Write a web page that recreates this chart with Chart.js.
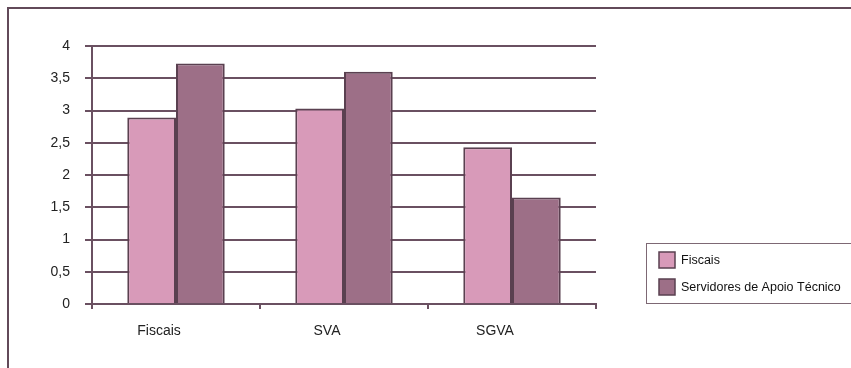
<!DOCTYPE html>
<html>
<head>
<meta charset="utf-8">
<script src="https://cdn.jsdelivr.net/npm/chart.js@4"></script>
<style>
  body { margin: 0; background: #fff; }
  canvas { display: block; }
</style>
</head>
<body>
<canvas id="myChart" width="851" height="368"></canvas>
<script>
'use strict';

// chart data
let categories = ['Fiscais', 'SVA', 'SGVA'];
let seriesNames = ['Fiscais', 'Servidores de Apoio Técnico'];
let fiscaisValues = [2.89, 3.03, 2.43];
let apoioValues = [3.73, 3.60, 1.65];

let lineColor = '#6a5061';
let fillColors = ['#d89ab9', '#9d6f87'];
let fontFamily = '"Liberation Sans", Arial, sans-serif';

// outer frame and boxed legend on the right
let framePlugin = {
  id: 'frame',
  afterDraw(chart) {
    let ctx = chart.ctx;
    ctx.save();
    ctx.strokeStyle = '#624a59';
    ctx.lineWidth = 2;
    ctx.strokeRect(8, 8, 900, 400);

    // legend box
    ctx.lineWidth = 1;
    ctx.strokeStyle = '#7d6874';
    ctx.strokeRect(646.5, 243.5, 300, 60);

    ctx.font = '12.5px ' + fontFamily;
    ctx.textBaseline = 'middle';
    chart.data.datasets.forEach((ds, i) => {
      let y = 252 + i * 27;
      ctx.fillStyle = ds.backgroundColor;
      ctx.fillRect(659, y, 16, 16);
      ctx.strokeStyle = '#5a4050';
      ctx.lineWidth = 1.5;
      ctx.strokeRect(659, y, 16, 16);
      ctx.fillStyle = '#111';
      ctx.fillText(ds.label, 681, y + 9);
    });
    ctx.restore();
  }
};

let chartObject = {
  type: 'bar',
  data: {
    labels: categories,
    datasets: [{
      label: seriesNames[0],
      data: fiscaisValues,
      backgroundColor: fillColors[0],
      borderColor: '#5a4050',
      borderWidth: 2
    },
    {
      label: seriesNames[1],
      data: apoioValues,
      backgroundColor: fillColors[1],
      borderColor: '#5a4050',
      borderWidth: 2
    }]
  },
  options: {
    responsive: false,
    animation: false,
    layout: {
      padding: { left: 8, right: 255, top: 46, bottom: 24 }
    },
    datasets: {
      bar: {
        categoryPercentage: 0.58,
        barPercentage: 1
      }
    },
    plugins: {
      legend: { display: false },
      tooltip: { enabled: false }
    },
    scales: {
      x: {
        grid: {
          drawOnChartArea: false,
          drawTicks: true,
          tickLength: 5,
          color: lineColor,
          lineWidth: 2
        },
        border: { color: lineColor, width: 2 },
        ticks: {
          color: '#222',
          padding: 14,
          labelOffset: -17,
          font: { family: fontFamily, size: 14 }
        },
        afterFit(scale) { scale.height = 40; }
      },
      y: {
        min: 0,
        max: 4,
        ticks: {
          stepSize: 0.5,
          color: '#222',
          padding: 15,
          font: { family: fontFamily, size: 14 },
          callback: (v) => String(v).replace('.', ',')
        },
        grid: {
          color: lineColor,
          lineWidth: 2,
          tickLength: 7
        },
        border: { color: lineColor, width: 2 },
        afterFit(scale) { scale.width = 84; }
      }
    }
  },
  plugins: [framePlugin]
};

let ctx = document.getElementById('myChart').getContext('2d');
let myChart = new Chart(ctx, chartObject);
</script>
</body>
</html>
